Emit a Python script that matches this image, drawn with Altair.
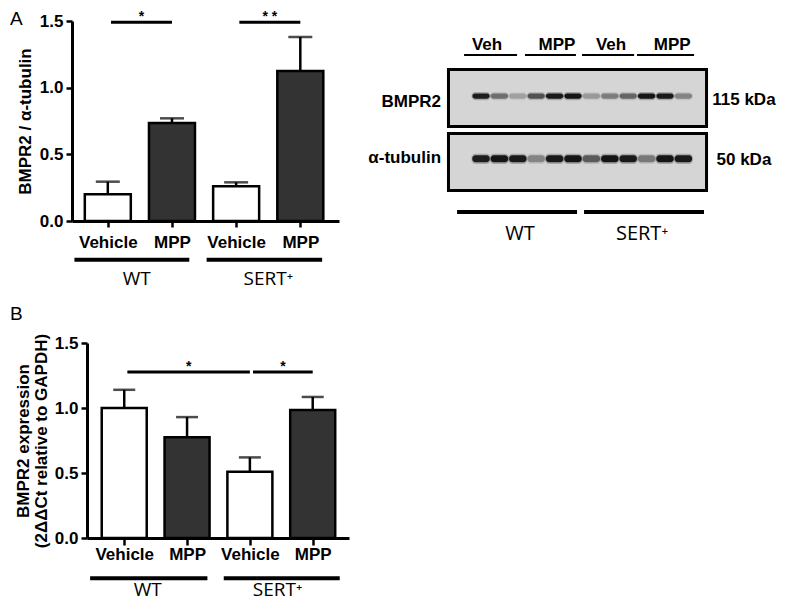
import altair as alt
import pandas as pd

# ---------------- data ----------------
treatments = ["Vehicle", "MPP", "Vehicle", "MPP"]
genotypes = ["WT", "WT", "SERT⁺", "SERT⁺"]
genotype_names = ["WT", "SERT⁺"]

# Panel A: BMPR2 / alpha-tubulin densitometry
a_mean = [0.20, 0.735, 0.26, 1.125]
a_sem = [0.095, 0.035, 0.03, 0.255]
a_sig_from = [0, 2]
a_sig_to = [1, 3]
a_sig_level = [1.49, 1.49]
a_sig_text = ["*", "* *"]

# Panel B: BMPR2 mRNA expression
b_mean = [1.00, 0.775, 0.51, 0.985]
b_sem = [0.14, 0.155, 0.11, 0.10]
b_sig_from = [0, 2]
b_sig_to = [2, 3]
b_sig_level = [1.277, 1.277]
b_sig_text = ["*", "*"]

# Western blot
blot_lanes = list(range(1, 13))
bmpr2_intensity = [0.90, 0.45, 0.22, 0.60, 0.92, 0.95, 0.25, 0.38, 0.50, 0.95, 0.92, 0.35]
tubulin_intensity = [0.90, 0.95, 0.92, 0.35, 0.92, 0.95, 0.55, 0.95, 0.92, 0.40, 0.95, 0.92]
blot_rows = ["BMPR2", "α-tubulin"]
blot_kda = ["115 kDa", "50 kDa"]
lane_group_labels = ["Veh", "MPP", "Veh", "MPP"]

# ---------------- style / layout ----------------
FONT = "Liberation Sans"
GFONT = "Open Sans"
DARK = "#333333"

LAY_A = dict(width=267, height=200, xdom=[-0.48, 3.525], xrange=None, yoffset=0,
             bar=46, cap=24, xtick=6, xlabpad=7,
             group_line=[(-0.52, 1.27), (1.54, 3.34)], group_label_x=[0.45, 2.5],
             group_y=-0.29, group_label_y=-0.48, letter="A", letter_y=-11,
             title="BMPR2 / α-tubulin", title_size=17, title_pad=5, title_lh=17)
LAY_B = dict(width=277, height=195, xdom=[-0.513, 3.498], xrange=[15, 277], yoffset=-15,
             bar=45, cap=22, xtick=7, xlabpad=1,
             group_line=[(-0.543, 1.324), (1.584, 3.43)], group_label_x=[0.375, 2.44],
             group_y=-0.309, group_label_y=-0.448, letter="B", letter_y=-38,
             title=["BMPR2 expression", "(2ΔΔCt relative to GAPDH)"], title_size=17,
             title_pad=4, title_lh=18)

label_expr = "[" + ",".join("'" + t + "'" for t in treatments) + "][datum.value]"


def bar_panel(mean, sem, sig_from, sig_to, sig_level, sig_text, lay):
    df = pd.DataFrame({"i": list(range(len(treatments))), "treat": treatments,
                       "geno": genotypes, "mean": mean, "sem": sem})
    sc_kw = dict(domain=lay["xdom"], nice=False, zero=False)
    if lay["xrange"]:
        sc_kw["range"] = lay["xrange"]
    xs = alt.Scale(**sc_kw)
    ys = alt.Scale(domain=[0, 1.5], nice=False)
    xa = alt.Axis(values=[0, 1, 2, 3], labelExpr=label_expr, title=None, grid=False,
                  domainColor="black", domainWidth=3, tickColor="black", tickWidth=2.5,
                  tickSize=lay["xtick"], labelPadding=lay["xlabpad"], labelFont=FONT,
                  labelFontSize=17, labelFontWeight="bold", labelColor="black",
                  labelAngle=0, labelOverlap=False, labelFlush=False)
    ya = alt.Axis(values=[0, 0.5, 1.0, 1.5], format=".1f", title=lay["title"], grid=False,
                  offset=lay["yoffset"], domainColor="black", domainWidth=3,
                  tickColor="black", tickWidth=2.5, tickSize=6, labelPadding=3,
                  labelFont=FONT, labelFontSize=17, labelFontWeight="bold",
                  labelColor="black", titleFont=FONT, titleFontSize=lay["title_size"],
                  titleFontWeight="bold", titleColor="black", titlePadding=lay["title_pad"],
                  titleLineHeight=lay["title_lh"])

    base = alt.Chart(df)
    err = base.transform_calculate(top="datum.mean + datum.sem").mark_rule(
        color="black", strokeWidth=2.5).encode(
        x=alt.X("i:Q", scale=xs, axis=xa),
        y=alt.Y("mean:Q", scale=ys, axis=ya),
        y2="top:Q")
    cap = base.transform_calculate(top="datum.mean + datum.sem").mark_tick(
        orient="horizontal", size=lay["cap"], thickness=2.5, color="black").encode(
        x=alt.X("i:Q", scale=xs, axis=xa),
        y=alt.Y("top:Q", scale=ys, axis=ya))
    bars = base.mark_bar(size=lay["bar"], stroke="black", strokeWidth=2.5).encode(
        x=alt.X("i:Q", scale=xs, axis=xa),
        y=alt.Y("mean:Q", scale=ys, axis=ya),
        fill=alt.Fill("treat:N", scale=alt.Scale(domain=["Vehicle", "MPP"],
                                                 range=["white", DARK]), legend=None))

    sig = pd.DataFrame({"x1": [f + 0.05 for f in sig_from], "x2": sig_to,
                        "y": sig_level, "t": sig_text})
    sig_base = alt.Chart(sig)
    sig_rule = sig_base.mark_rule(color="black", strokeWidth=3).encode(
        x=alt.X("x1:Q", scale=xs, axis=xa), x2="x2:Q",
        y=alt.Y("y:Q", scale=ys, axis=ya))
    sig_star = sig_base.transform_calculate(xm="(datum.x1 + datum.x2) / 2").mark_text(
        font=FONT, fontSize=14, fontWeight="bold", color="black", baseline="alphabetic",
        dy=-1).encode(
        x=alt.X("xm:Q", scale=xs, axis=xa),
        y=alt.Y("y:Q", scale=ys, axis=ya), text="t:N")

    grp = pd.DataFrame({
        "g": genotype_names,
        "s": [a for a, b in lay["group_line"]],
        "e": [b for a, b in lay["group_line"]],
        "lx": lay["group_label_x"],
        "ly": [lay["group_y"]] * 2,
        "ty": [lay["group_label_y"]] * 2,
    })
    g_base = alt.Chart(grp)
    g_rule = g_base.mark_rule(color="black", strokeWidth=4).encode(
        x=alt.X("s:Q", scale=xs, axis=xa), x2="e:Q",
        y=alt.Y("ly:Q", scale=ys, axis=ya))
    g_text = g_base.mark_text(font=GFONT, fontSize=19, color="black",
                              baseline="alphabetic").encode(
        x=alt.X("lx:Q", scale=xs, axis=xa),
        y=alt.Y("ty:Q", scale=ys, axis=ya), text="g:N")

    letter = alt.Chart(pd.DataFrame({"t": [lay["letter"]]})).mark_text(
        font=FONT, fontSize=19, color="black", align="left", baseline="top").encode(
        x=alt.value(-62), y=alt.value(lay["letter_y"]), text="t:N")

    return alt.layer(err, cap, bars, sig_rule, sig_star, g_rule, g_text, letter).properties(
        width=lay["width"], height=lay["height"])


panel_a = bar_panel(a_mean, a_sem, a_sig_from, a_sig_to, a_sig_level, a_sig_text, LAY_A)
panel_b = bar_panel(b_mean, b_sem, b_sig_from, b_sig_to, b_sig_level, b_sig_text, LAY_B)

# ---------------- western blot panel ----------------
BX = [-0.848, 13.337]
BY = [-0.203, 2.922]
bxs = alt.Scale(domain=BX, nice=False, zero=False)
bys = alt.Scale(domain=BY, nice=False, zero=False, reverse=True)
row_idx = [1, 2]

boxes = pd.DataFrame({"r": row_idx})
box_layer = alt.Chart(boxes).transform_calculate(
    x0=str(BX[0] + 0.08), x1=str(BX[1] - 0.08),
    y0="datum.r - 0.446", y1="datum.r + 0.446").mark_rect(
    fill="#d5d5d5", stroke="black", strokeWidth=3).encode(
    x=alt.X("x0:Q", scale=bxs, axis=None), x2="x1:Q",
    y=alt.Y("y0:Q", scale=bys, axis=None), y2="y1:Q")

band_rows = []
for lane, v in zip(blot_lanes, bmpr2_intensity):
    band_rows.append({"lane": lane, "a": v, "yc": 0.97, "h": 0.04})
for lane, v in zip(blot_lanes, tubulin_intensity):
    band_rows.append({"lane": lane, "a": v, "yc": 1.95, "h": 0.055})
bands = pd.DataFrame(band_rows)

band_glow = alt.Chart(bands).transform_calculate(
    xa="datum.lane - 0.52", xb="datum.lane + 0.52",
    ya="datum.yc - datum.h - 0.025", yb="datum.yc + datum.h + 0.025",
    op="datum.a * 0.28").mark_rect(fill="#222222", cornerRadius=4).encode(
    x=alt.X("xa:Q", scale=bxs, axis=None), x2="xb:Q",
    y=alt.Y("ya:Q", scale=bys, axis=None), y2="yb:Q",
    opacity=alt.Opacity("op:Q", scale=None))
band_core = alt.Chart(bands).transform_calculate(
    xa="datum.lane - 0.47", xb="datum.lane + 0.47",
    ya="datum.yc - datum.h", yb="datum.yc + datum.h").mark_rect(
    fill="#0d0d0d", cornerRadius=3).encode(
    x=alt.X("xa:Q", scale=bxs, axis=None), x2="xb:Q",
    y=alt.Y("ya:Q", scale=bys, axis=None), y2="yb:Q",
    opacity=alt.Opacity("a:Q", scale=None))

hdr = pd.DataFrame({
    "t": lane_group_labels,
    "tx": [1.33, 5.13, 8.07, 11.39],
    "s": [0.08, 3.39, 6.49, 9.48],
    "e": [2.96, 6.16, 9.32, 12.58],
    "ty": [0.172] * 4,
    "ly": [0.328] * 4,
})
hdr_text = alt.Chart(hdr).mark_text(font=FONT, fontSize=17, fontWeight="bold",
                                    color="black", baseline="middle").encode(
    x=alt.X("tx:Q", scale=bxs, axis=None), y=alt.Y("ty:Q", scale=bys, axis=None), text="t:N")
hdr_rule = alt.Chart(hdr).mark_rule(color="black", strokeWidth=2).encode(
    x=alt.X("s:Q", scale=bxs, axis=None), x2="e:Q", y=alt.Y("ly:Q", scale=bys, axis=None))

rowlab = pd.DataFrame({"t": blot_rows, "k": blot_kda, "x": [-1.17, -1.17],
                       "y": [1.06, 1.94], "kx": [15.29, 15.29], "ky": [1.03, 1.97]})
row_text = alt.Chart(rowlab).mark_text(font=FONT, fontSize=17, fontWeight="bold",
                                       color="black", align="right", baseline="middle").encode(
    x=alt.X("x:Q", scale=bxs, axis=None), y=alt.Y("y:Q", scale=bys, axis=None), text="t:N")
kda_text = alt.Chart(rowlab).mark_text(font=FONT, fontSize=17, fontWeight="bold",
                                       color="black", align="center", baseline="middle").encode(
    x=alt.X("kx:Q", scale=bxs, axis=None), y=alt.Y("ky:Q", scale=bys, axis=None), text="k:N")

bgrp = pd.DataFrame({"g": genotype_names, "s": [-0.30, 6.60], "e": [6.22, 13.12],
                     "lx": [3.12, 9.75], "ly": [2.78, 2.78], "ty": [3.22, 3.22]})
bgrp_rule = alt.Chart(bgrp).mark_rule(color="black", strokeWidth=4).encode(
    x=alt.X("s:Q", scale=bxs, axis=None), x2="e:Q", y=alt.Y("ly:Q", scale=bys, axis=None))
bgrp_text = alt.Chart(bgrp).mark_text(font=GFONT, fontSize=20, color="black",
                                      baseline="alphabetic").encode(
    x=alt.X("lx:Q", scale=bxs, axis=None), y=alt.Y("ty:Q", scale=bys, axis=None), text="g:N")

blot = alt.layer(box_layer, band_glow, band_core, hdr_text, hdr_rule, row_text, kda_text,
                 bgrp_rule, bgrp_text).properties(width=261, height=200)

chart = alt.concat(panel_a, blot, panel_b, columns=2,
                   spacing={"row": 122, "column": 98}, bounds="flush", align="each").properties(
    padding={"left": 2, "top": 2, "right": 8, "bottom": 8}
).configure_view(stroke=None)

chart.save("out.html", embed_options={"renderer": "svg", "actions": False})
